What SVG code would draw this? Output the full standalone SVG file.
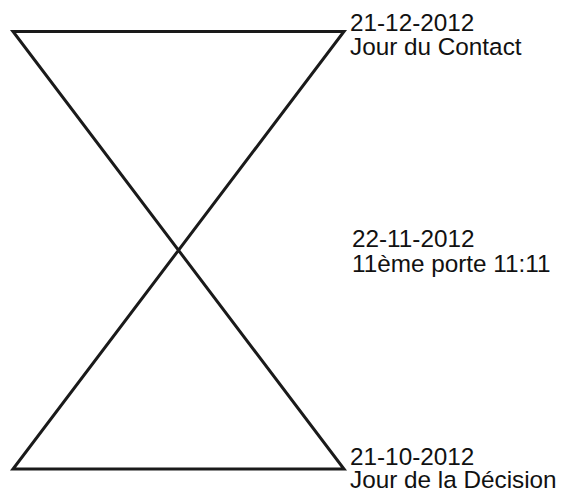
<svg xmlns="http://www.w3.org/2000/svg" width="563" height="490" viewBox="0 0 563 490">
  <style>
    .shape { fill: none; stroke: #1a1a1a; stroke-width: 3; stroke-linejoin: miter; }
    .lbl { font-family: "Liberation Sans", Arial, sans-serif; font-size: 24.3px; fill: #111; }
  </style>
  <rect x="0" y="0" width="563" height="490" fill="#ffffff"/>
  <g id="hourglass">
    <polygon class="shape" points="13,31.5 344,31.5 13,469 344,469"/>
  </g>
  <g id="label-top">
    <text class="lbl" x="350" y="31">21-12-2012</text>
    <text class="lbl" x="350" y="55">Jour du Contact</text>
  </g>
  <g id="label-middle">
    <text class="lbl" x="352" y="247">22-11-2012</text>
    <text class="lbl" x="352" y="272">11ème porte 11:11</text>
  </g>
  <g id="label-bottom">
    <text class="lbl" x="350" y="465">21-10-2012</text>
    <text class="lbl" x="350" y="488">Jour de la Décision</text>
  </g>
</svg>
